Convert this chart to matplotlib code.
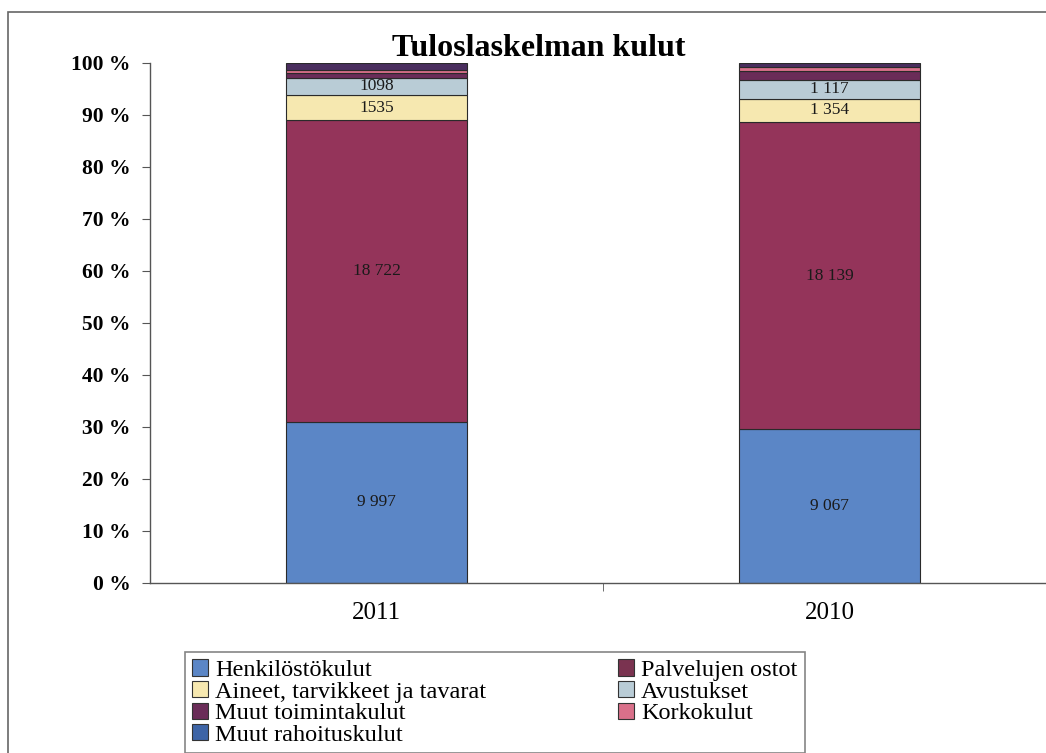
import matplotlib
matplotlib.use("Agg")
import matplotlib.pyplot as plt
from matplotlib.patches import Rectangle
import numpy as np

years = ["2011", "2010"]
series = ["Henkilöstökulut", "Palvelujen ostot", "Aineet, tarvikkeet ja tavarat", "Avustukset",
          "Muut toimintakulut", "Korkokulut", "Muut rahoituskulut"]
values = {
    "Henkilöstökulut": [9997, 9067],
    "Palvelujen ostot": [18722, 18139],
    "Aineet, tarvikkeet ja tavarat": [1535, 1354],
    "Avustukset": [1098, 1117],
    "Muut toimintakulut": [300, 540],
    "Korkokulut": [180, 230],
    "Muut rahoituskulut": [420, 226],
}
labels = {
    "Henkilöstökulut": ["9 997", "9 067"],
    "Palvelujen ostot": ["18 722", "18 139"],
    "Aineet, tarvikkeet ja tavarat": ["1535", "1 354"],
    "Avustukset": ["1098", "1 117"],
}
colors = {
    "Henkilöstökulut": "#5b86c6",
    "Palvelujen ostot": "#94345a",
    "Aineet, tarvikkeet ja tavarat": "#f6e8b0",
    "Avustukset": "#b9ccd6",
    "Muut toimintakulut": "#6a2c58",
    "Korkokulut": "#d9708a",
    "Muut rahoituskulut": "#4a2e5e",
}
legend_colors = dict(colors)
legend_colors["Palvelujen ostot"] = "#7a3350"
legend_colors["Muut rahoituskulut"] = "#3d64a6"

SERIF = ["Liberation Serif", "DejaVu Serif"]
plt.rcParams["font.family"] = SERIF

fig = plt.figure(figsize=(10.46, 7.53), dpi=100)
W, H = 1046, 753
ax = fig.add_axes([150 / W, 1 - 583 / H, (1056 - 150) / W, (583 - 63) / H])

totals = np.sum([values[s] for s in series], axis=0)
x = np.arange(len(years))
bottom = np.zeros(len(years))
for s in series:
    pct = np.array(values[s]) / totals * 100
    ax.bar(x, pct, 0.40, bottom=bottom, color=colors[s], edgecolor="#2a2a2a", linewidth=0.8, zorder=2)
    if s in labels:
        for i in range(len(years)):
            ax.text(x[i], bottom[i] + pct[i] / 2, labels[s][i], ha="center", va="center",
                    fontsize=12.5, color="#1a1a1a", zorder=3)
    bottom += pct

ax.set_xlim(-0.5, 1.5)
ax.set_ylim(0, 100)
ax.set_yticks(np.arange(0, 101, 10))
ax.set_yticklabels([f"{v} %" for v in range(0, 101, 10)], fontsize=15.5, fontweight="bold")
ax.set_xticks([0.5], minor=True)
ax.set_xticks(x)
ax.set_xticklabels(years, fontsize=18)
ax.tick_params(axis="x", which="major", length=0, pad=14)
ax.tick_params(axis="x", which="minor", length=6, color="#555555")
ax.tick_params(axis="y", length=6, color="#555555", pad=8)
for side in ["top", "right"]:
    ax.spines[side].set_visible(False)
for side in ["left", "bottom"]:
    ax.spines[side].set_color("#555555")
    ax.spines[side].set_linewidth(1.0)

fig.text(539 / W, 1 - 48 / H, "Tuloslaskelman kulut", ha="center", va="center",
         fontsize=23, fontweight="bold")

# outer frame of the scanned chart
fig.patches.append(Rectangle((8 / W, -0.1), 1.2, 1 - 12 / H + 0.1, transform=fig.transFigure,
                             fill=False, edgecolor="#666666", linewidth=1.2))

order = ["Henkilöstökulut", "Aineet, tarvikkeet ja tavarat", "Muut toimintakulut", "Muut rahoituskulut",
         "Palvelujen ostot", "Avustukset", "Korkokulut"]
handles = [Rectangle((0, 0), 1, 1, facecolor=legend_colors[s], edgecolor="#333333", linewidth=0.8)
           for s in order]
leg = fig.legend(handles, order, loc="upper left", bbox_to_anchor=(185 / W, 1 - 652 / H), ncol=2,
                 fontsize=17.5, frameon=True, fancybox=False, edgecolor="#666666",
                 handlelength=0.65, handleheight=0.65, handletextpad=0.3, labelspacing=0.0,
                 columnspacing=5.4, borderpad=0.3, borderaxespad=0)
leg.get_frame().set_linewidth(1.2)

fig.savefig("out.png", dpi=100)
